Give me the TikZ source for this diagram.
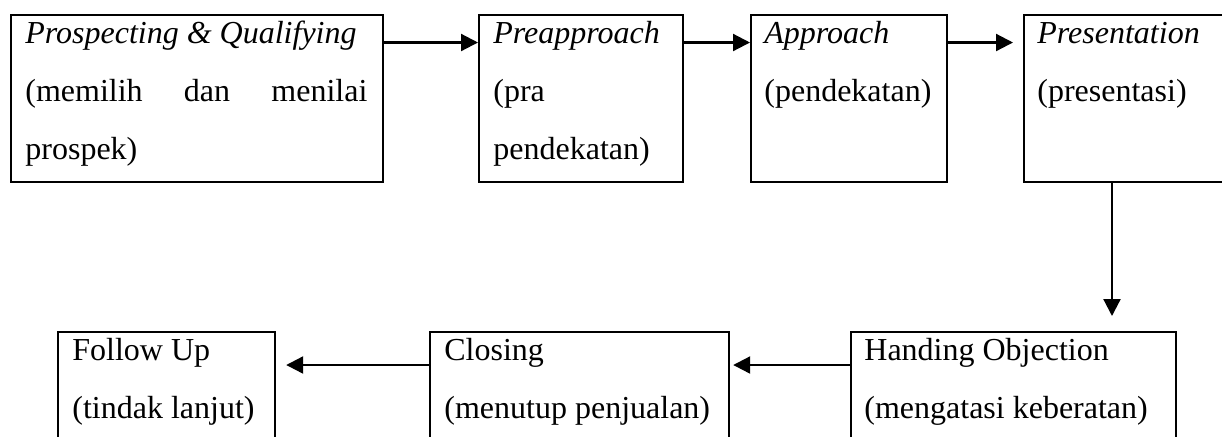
\documentclass[tikz,border=0pt]{standalone}
\usepackage{fontspec}
\setmainfont{Liberation Serif}
\usetikzlibrary{arrows.meta}
\begin{document}
\begin{tikzpicture}[x=0.5pt,y=-0.5pt,
  box/.style={draw,line width=1.1pt,inner sep=0pt,anchor=north west,minimum height=83.5pt},
  lowbox/.style={box,minimum height=64.5pt},
  txt/.style={anchor=base west,inner sep=0pt,font=\fontsize{16pt}{29pt}\selectfont},
  arr/.style={line width=1.1pt,-{Triangle[length=8.5pt,width=8.5pt]}}]
\useasboundingbox (0,0) rectangle (1222,436);
\clip (0,0) rectangle (1222,436);
% top row
\node[box,minimum width=186pt] (b1) at (10,14) {};
\node[box,minimum width=102pt] (b2) at (478,14) {};
\node[box,minimum width=98pt] (b3) at (750,14) {};
\node[box,minimum width=108.5pt] (b4) at (1023,14) {};
% bottom row
\node[lowbox,minimum width=108.5pt] (f) at (57,331) {};
\node[lowbox,minimum width=149.5pt] (c) at (429,331) {};
\node[lowbox,minimum width=162.5pt] (h) at (850,331) {};
% texts
\node[txt] (t1) at ([xshift=7.5pt,yshift=-14.5pt]b1.north west)
  {\parbox[t]{172pt}{\textit{Prospecting \& Qualifying}\\\makebox[171pt][s]{(memilih dan menilai}\\prospek)}};
\node[txt] (t2) at ([xshift=7.5pt,yshift=-14.5pt]b2.north west)
  {\parbox[t]{90pt}{\textit{Preapproach}\\(pra\\pendekatan)}};
\node[txt] (t3) at ([xshift=7pt,yshift=-14.5pt]b3.north west)
  {\parbox[t]{90pt}{\textit{Approach}\\(pendekatan)}};
\node[txt] (t4) at ([xshift=7pt,yshift=-14.5pt]b4.north west)
  {\parbox[t]{95pt}{\textit{Presentation}\\(presentasi)}};
\node[txt] (t5) at ([xshift=7.5pt,yshift=-14.5pt]f.north west)
  {\parbox[t]{100pt}{Follow Up\\(tindak lanjut)}};
\node[txt] (t6) at ([xshift=7.5pt,yshift=-14.5pt]c.north west)
  {\parbox[t]{140pt}{Closing\\(menutup penjualan)}};
\node[txt] (t7) at ([xshift=7pt,yshift=-14.5pt]h.north west)
  {\parbox[t]{155pt}{Handing Objection\\(mengatasi keberatan)}};
% connectors
\draw[arr] ([yshift=-14.25pt]b1.north east) -- ([yshift=-14.25pt]b2.north west);
\draw[arr] ([yshift=-14.25pt]b2.north east) -- ([yshift=-14.25pt]b3.north west);
\draw[arr,shorten >=5pt] ([yshift=-14.25pt]b3.north east) -- ([yshift=-14.25pt]b4.north west);
\coordinate (vtop) at ([xshift=44.5pt]b4.south west);
\draw[arr,shorten >=7.5pt] (vtop) -- (vtop |- h.north);
\draw[arr,shorten >=1.5pt] ([yshift=-17pt]h.north west) -- ([yshift=-17pt]c.north east);
\draw[arr,shorten >=5pt] ([yshift=-17pt]c.north west) -- ([yshift=-17pt]f.north east);
\end{tikzpicture}
\end{document}
